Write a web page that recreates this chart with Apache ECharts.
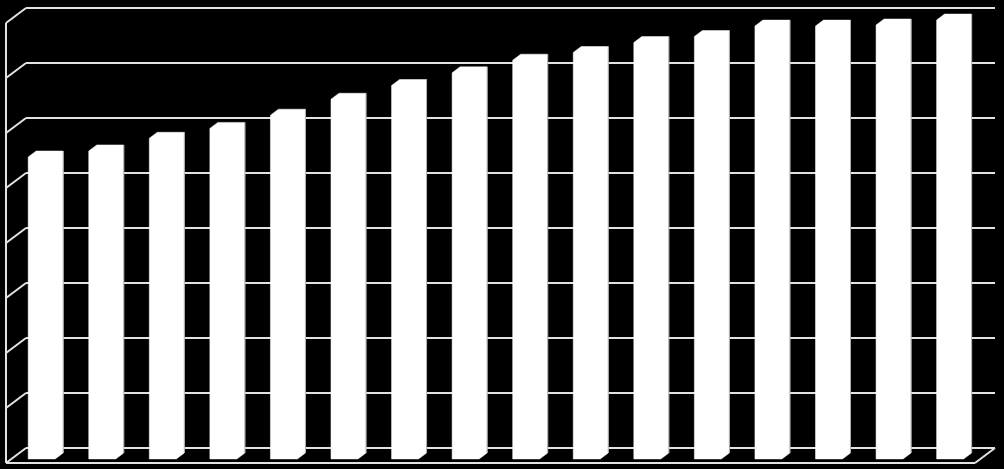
<!DOCTYPE html>
<html>
<head>
<meta charset="utf-8">
<script src="https://cdn.jsdelivr.net/npm/echarts@6/dist/echarts.min.js"></script>
<style>
html,body{margin:0;padding:0;background:#000;}
#chart{width:1004px;height:469px;}
</style>
</head>
<body>
<div id="chart"></div>
<script>
// ---- data ----
var categories = ['1','2','3','4','5','6','7','8','9','10','11','12','13','14','15','16'];
var values = [54.9, 56.0, 58.3, 60.1, 62.5, 65.4, 67.9, 70.2, 72.5, 73.9, 75.7, 76.8, 78.7, 78.7, 78.9, 79.8];
var yTicks = [0, 10, 20, 30, 40, 50, 60, 70, 80];

// ---- 3D look (styles) ----
var DX = -20, DY = 15;        // full depth projection offset
var DF = 0.73, DB = 0.33;     // bar front/back depth fractions
var BAR_W = 0.446;            // bar width as fraction of band
var LINE = '#e2e2e2';

var chart = echarts.init(document.getElementById('chart'));

function wallItem(params, api) {
  var cs = params.coordSys;
  var v = api.value(0);
  var p = api.coord([0, v]);
  var y = p[1];
  var children = [];
  var ls = {stroke: LINE, lineWidth: 2};
  children.push({type: 'line', shape: {x1: cs.x, y1: y, x2: cs.x + DX, y2: y + DY}, style: ls});
  if (params.dataIndex === 0) {
    // floor front edge and right diagonal
    children.push({type: 'line', shape: {x1: cs.x + DX, y1: y + DY, x2: cs.x + cs.width + DX, y2: y + DY}, style: ls});
    children.push({type: 'line', shape: {x1: cs.x + cs.width, y1: y, x2: cs.x + cs.width + DX, y2: y + DY}, style: ls});
    // left front vertical edge
    children.push({type: 'line', shape: {x1: cs.x + DX, y1: cs.y + DY, x2: cs.x + DX, y2: cs.y + cs.height + DY}, style: ls});
  }
  return {type: 'group', children: children};
}

function barItem(params, api) {
  var i = api.value(0);
  var v = api.value(1);
  var top = api.coord([i, v]);
  var base = api.coord([i, 0]);
  var band = api.size([1, 0])[0];
  var w = band * BAR_W;
  var xl = top[0] - w / 2, xr = top[0] + w / 2;
  var yt = top[1], y0 = base[1];
  var pts = [
    [xl + DX * DF, y0 + DY * DF],
    [xl + DX * DF, yt + DY * DF],
    [xl + DX * DB, yt + DY * DB],
    [xr + DX * DB, yt + DY * DB],
    [xr + DX * DB, y0 + DY * DB],
    [xr + DX * DF, y0 + DY * DF]
  ];
  return {
    type: 'group',
    children: [
      {type: 'polygon', shape: {points: pts}, style: {fill: '#ffffff', stroke: '#ffffff', lineWidth: 0.5}},
      {type: 'line', shape: {x1: xr + DX * DB, y1: yt + DY * DB, x2: xr + DX * DB, y2: y0 + DY * DB},
        style: {stroke: '#b0b0b0', lineWidth: 1}}
    ]
  };
}

var option = {
  backgroundColor: '#000000',
  animation: false,
  grid: {left: 26, right: 9, top: 8, bottom: 21},
  xAxis: {
    type: 'category',
    data: categories,
    axisLine: {show: false},
    axisTick: {show: false},
    axisLabel: {show: false},
    splitLine: {show: false}
  },
  yAxis: {
    type: 'value',
    min: 0, max: 80, interval: 10,
    axisLine: {show: false},
    axisTick: {show: false},
    axisLabel: {show: false},
    splitLine: {show: true, lineStyle: {color: LINE, width: 2}}
  },
  series: [
    {
      type: 'custom',
      renderItem: wallItem,
      data: yTicks.map(function (t) { return [t]; }),
      encode: {y: 0},
      z: 1,
      silent: true
    },
    {
      type: 'custom',
      renderItem: barItem,
      data: values.map(function (v, i) { return [i, v]; }),
      encode: {x: 0, y: 1},
      z: 5
    }
  ]
};
chart.setOption(option);
</script>
</body>
</html>
